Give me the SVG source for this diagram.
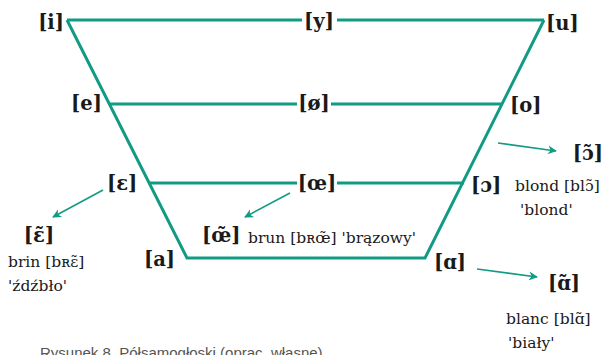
<svg xmlns="http://www.w3.org/2000/svg" width="605" height="355" viewBox="0 0 605 355">
<defs>
<marker id="ah" viewBox="0 0 10 10" refX="9" refY="5" markerWidth="11" markerHeight="9" markerUnits="userSpaceOnUse" orient="auto">
<path d="M0,0 L10,5 L0,10 L3,5 Z" fill="#119b84"/>
</marker>
</defs>
<style>
.ln{stroke:#119b84;stroke-width:3;fill:none}
.ar{stroke:#119b84;stroke-width:1.6;fill:none;marker-end:url(#ah)}
.v{font-family:"DejaVu Serif",serif;font-weight:bold;font-size:19.5px;fill:#1a1a1a}
.t{font-family:"DejaVu Serif",serif;font-size:15.5px;fill:#1a1a1a}
.cap{font-family:"Liberation Sans",Arial,sans-serif;font-size:15px;fill:#555}
</style>
<rect width="605" height="355" fill="#fff"/>
<g id="connectors">
<path class="ln" d="M67,20 L302,20 M337,20 L544,20"/>
<path class="ln" d="M67,20 L187,258 L425,258 L544,20"/>
<path class="ln" d="M109,104 L297,104 M331,104 L503,104"/>
<path class="ln" d="M149,183 L297,183 M337,183 L464,183"/>
<line class="ar" x1="103" y1="190" x2="53" y2="217"/>
<line class="ar" x1="290" y1="193" x2="245" y2="217"/>
<line class="ar" x1="498" y1="143" x2="556" y2="151"/>
<line class="ar" x1="477" y1="269" x2="537" y2="277"/>
</g>
<g id="n-i"><text class="v" x="64" y="29" text-anchor="end">[i]</text></g>
<g id="n-y"><text class="v" x="319" y="28" text-anchor="middle">[y]</text></g>
<g id="n-u"><text class="v" x="546" y="30">[u]</text></g>
<g id="n-e"><text class="v" x="71" y="110">[e]</text></g>
<g id="n-oe-slash"><text class="v" x="314" y="110" text-anchor="middle">[ø]</text></g>
<g id="n-o"><text class="v" x="510" y="112">[o]</text></g>
<g id="n-eps"><text class="v" x="107" y="190">[ɛ]</text></g>
<g id="n-oe"><text class="v" x="317" y="190" text-anchor="middle">[œ]</text></g>
<g id="n-open-o"><text class="v" x="471" y="192">[ɔ]</text></g>
<g id="n-a"><text class="v" x="144" y="266">[a]</text></g>
<g id="n-alpha"><text class="v" x="434" y="269">[ɑ]</text></g>
<g id="n-eps-nasal">
<text class="v" x="39" y="242" text-anchor="middle">[ɛ̃]</text>
<text class="t" x="8" y="267">brin [bʀɛ̃]</text>
<text class="t" x="8" y="291">'źdźbło'</text>
</g>
<g id="n-oe-nasal">
<text class="v" x="202" y="242">[œ̃]</text>
<text class="t" x="248" y="243">brun [bʀœ̃] 'brązowy'</text>
</g>
<g id="n-o-nasal">
<text class="v" x="603" y="160" text-anchor="end">[ɔ̃]</text>
<text class="t" x="515" y="191">blond [blɔ̃]</text>
<text class="t" x="520" y="215">'blond'</text>
</g>
<g id="n-a-nasal">
<text class="v" x="564" y="290" text-anchor="middle">[ɑ̃]</text>
<text class="t" x="506" y="324">blanc [blɑ̃]</text>
<text class="t" x="508" y="348">'biały'</text>
</g>
<text class="cap" x="40" y="358">Rysunek 8. Półsamogłoski (oprac. własne)</text>
</svg>
